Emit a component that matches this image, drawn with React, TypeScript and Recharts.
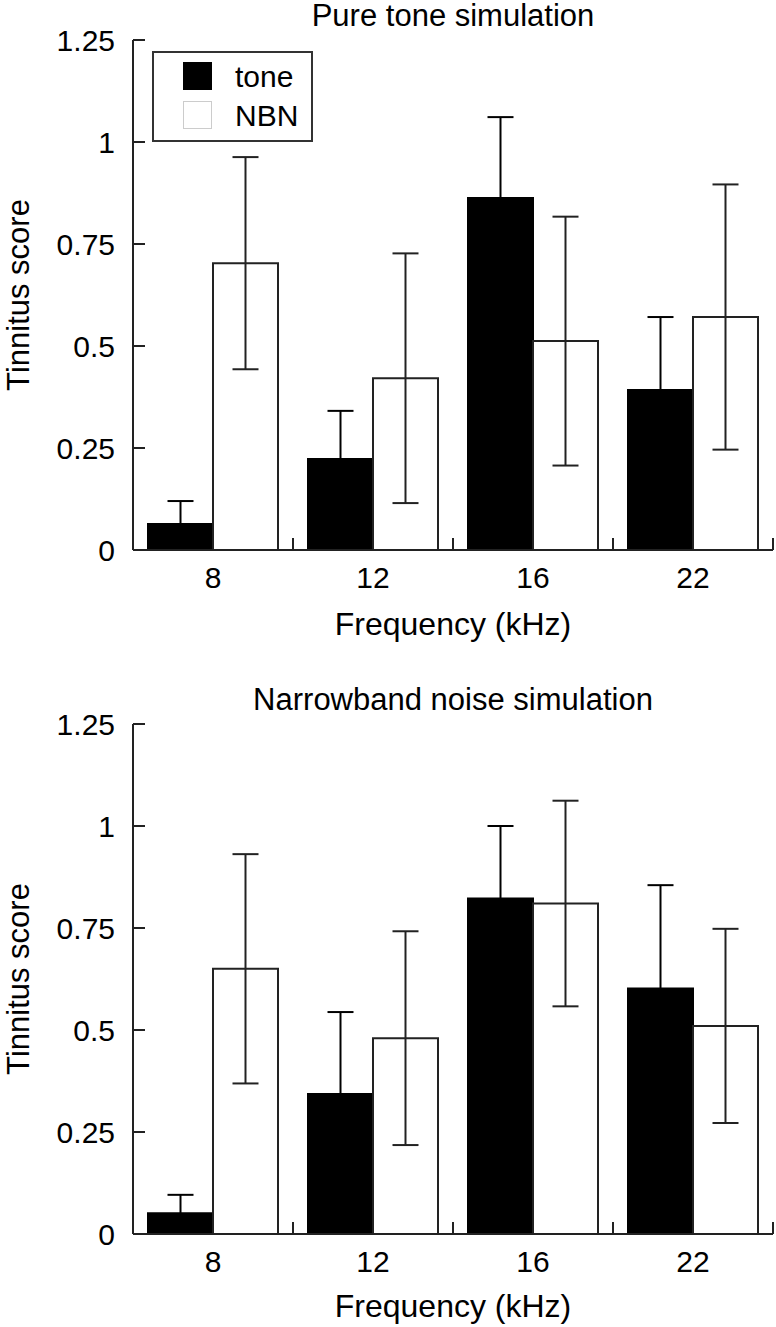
import React from 'react';
import { BarChart, Bar, XAxis, YAxis, ErrorBar, Legend } from 'recharts';

const FONT = '"Liberation Sans", Arial, Helvetica, sans-serif';

// frequencies (kHz)
const categories = ['8', '12', '16', '22'];
const yTicks = [0, 0.25, 0.5, 0.75, 1, 1.25];
const seriesOrder = ['tone', 'nbn'];

// Pure tone simulation
const pureTone = [0.064, 0.223, 0.863, 0.392];
const pureToneErr = [0.056, 0.118, 0.198, 0.179];
const pureNbn = [0.703, 0.421, 0.512, 0.571];
const pureNbnErr = [0.26, 0.306, 0.305, 0.325];

// Narrowband noise simulation
const narrowTone = [0.051, 0.343, 0.822, 0.602];
const narrowToneErr = [0.045, 0.201, 0.178, 0.253];
const narrowNbn = [0.65, 0.48, 0.81, 0.51];
const narrowNbnErr = [0.281, 0.262, 0.252, 0.238];

const build = (tone: number[], toneErr: number[], nbn: number[], nbnErr: number[]) =>
  categories.map((freq, i) => ({
    freq,
    tone: tone[i],
    toneErr: toneErr[i],
    nbn: nbn[i],
    nbnErr: nbnErr[i],
  }));

const pureData = build(pureTone, pureToneErr, pureNbn, pureNbnErr);
const narrowData = build(narrowTone, narrowToneErr, narrowNbn, narrowNbnErr);

const AXIS = '#222';
const TICK_MARGIN = 17;

// label at band centre, small inward tick at the band's right edge
function FreqTick(props: any) {
  const { x, y, payload } = props;
  const half = (payload && payload.offset) || 80;
  const axisY = y - TICK_MARGIN;
  return (
    <g>
      <text x={x} y={y} dy="0.71em" textAnchor="middle" fontSize={30} fontFamily={FONT} fill="#000">
        {payload.value}
      </text>
      <line x1={x + half} x2={x + half} y1={axisY} y2={axisY - 12} stroke={AXIS} strokeWidth={2} />
    </g>
  );
}

function LegendBox(props: any) {
  const items = [...(props.payload || [])].sort(
    (a: any, b: any) => seriesOrder.indexOf(a.dataKey) - seriesOrder.indexOf(b.dataKey)
  );
  return (
    <div style={{ position: 'relative', width: '100%', height: '100%', fontFamily: FONT }}>
      {items.map((it: any, i: number) => {
        const isTone = it.dataKey === 'tone';
        return (
          <div key={it.value} style={{ position: 'absolute', left: 0, top: 9 + 39 * i, height: 29, width: '100%' }}>
            <div
              style={{
                position: 'absolute',
                left: 29,
                top: 0,
                width: 29,
                height: 28,
                boxSizing: 'border-box',
                background: isTone ? '#000' : '#fff',
                border: isTone ? '1px solid #000' : '1px solid #ccc',
              }}
            />
            <span style={{ position: 'absolute', left: 81, top: 0, fontSize: 30, lineHeight: '29px', color: '#000' }}>
              {it.value}
            </span>
          </div>
        );
      })}
    </div>
  );
}

function Panel(props: {
  data: any[];
  height: number;
  marginTop: number;
  xAxisHeight: number;
  labelOffset: number;
  legend?: boolean;
}) {
  const { data, height, marginTop, xAxisHeight, labelOffset, legend } = props;
  return (
    <BarChart
      width={776}
      height={height}
      data={data}
      margin={{ top: marginTop, right: 3, bottom: 0, left: 0 }}
      barCategoryGap={15}
      barGap={0}
    >
      <XAxis
        dataKey="freq"
        height={xAxisHeight}
        tickLine={false}
        tickSize={0}
        tickMargin={TICK_MARGIN}
        tick={<FreqTick />}
        axisLine={{ stroke: AXIS, strokeWidth: 2 }}
        label={{
          value: 'Frequency (kHz)',
          position: 'insideBottom',
          offset: labelOffset,
          fontSize: 32,
          fill: '#000',
          fontFamily: FONT,
        }}
      />
      <YAxis
        type="number"
        width={133}
        domain={[0, 1.25]}
        ticks={yTicks}
        interval={0}
        tickSize={-12}
        tickMargin={30}
        tickFormatter={(v: number) => String(v)}
        tick={{ fontSize: 30, fill: '#000', fontFamily: FONT }}
        tickLine={{ stroke: AXIS, strokeWidth: 2 }}
        axisLine={{ stroke: AXIS, strokeWidth: 2 }}
        label={{
          value: 'Tinnitus score',
          angle: -90,
          position: 'insideLeft',
          offset: 18,
          style: { textAnchor: 'middle' },
          fontSize: 31,
          fill: '#000',
          fontFamily: FONT,
        }}
      />
      {legend && (
        <Legend
          layout="vertical"
          align="center"
          verticalAlign="middle"
          content={<LegendBox />}
          wrapperStyle={{
            left: 152,
            top: 51,
            width: 161,
            height: 91,
            border: '2px solid #333',
            boxSizing: 'border-box',
            background: '#fff',
          }}
        />
      )}
      <Bar dataKey="tone" name="tone" fill="#000" stroke="#000" strokeWidth={2} isAnimationActive={false}>
        <ErrorBar dataKey="toneErr" width={13} stroke="#000" strokeWidth={2} isAnimationActive={false} />
      </Bar>
      <Bar dataKey="nbn" name="NBN" fill="#fff" stroke="#222" strokeWidth={2} isAnimationActive={false}>
        <ErrorBar dataKey="nbnErr" width={13} stroke="#222" strokeWidth={2} isAnimationActive={false} />
      </Bar>
    </BarChart>
  );
}

const titleStyle: React.CSSProperties = {
  position: 'absolute',
  left: 133,
  width: 640,
  textAlign: 'center',
  fontFamily: FONT,
  fontSize: 31,
  lineHeight: '31px',
  color: '#000',
};

export default function App() {
  return (
    <div style={{ position: 'absolute', left: 0, top: 0, width: 776, height: 1327, background: '#fff' }}>
      <div style={{ position: 'absolute', left: 0, top: 0 }}>
        <Panel data={pureData} height={660} marginTop={40} xAxisHeight={110} labelOffset={25} legend />
      </div>
      <div style={{ position: 'absolute', left: 0, top: 660 }}>
        <Panel data={narrowData} height={667} marginTop={64} xAxisHeight={93} labelOffset={10} />
      </div>
      <div style={{ ...titleStyle, top: 0 }}>Pure tone simulation</div>
      <div style={{ ...titleStyle, top: 684 }}>Narrowband noise simulation</div>
    </div>
  );
}
